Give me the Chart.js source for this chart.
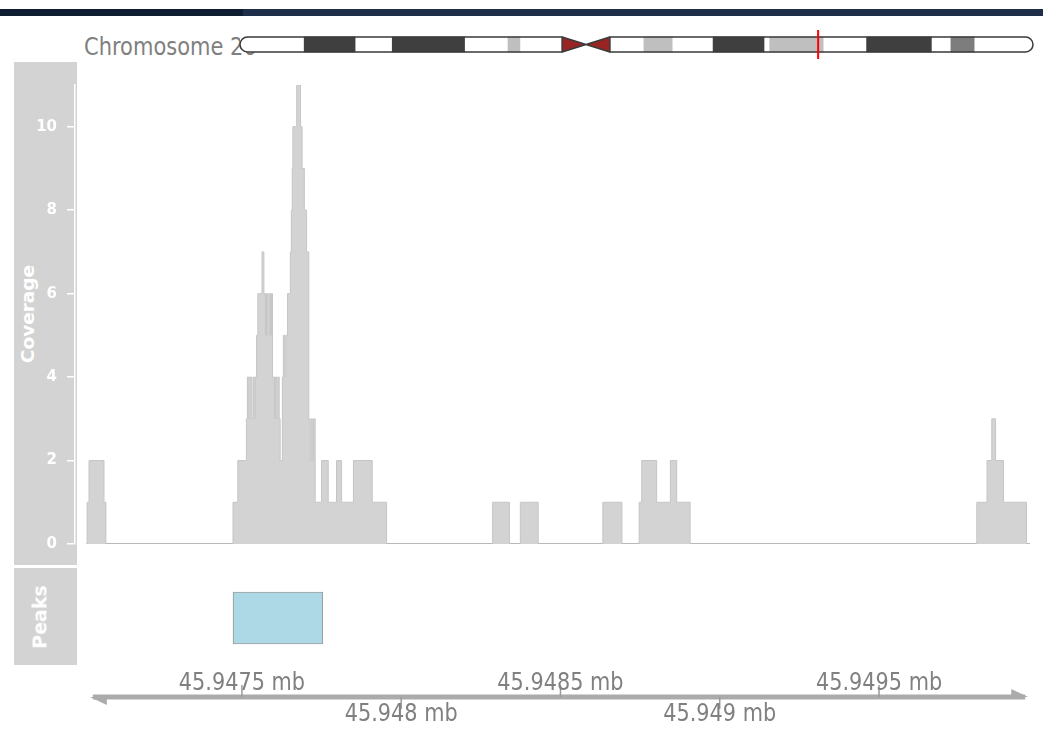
<!DOCTYPE html>
<html>
<head>
<meta charset="utf-8">
<script src="https://cdn.jsdelivr.net/npm/chart.js@4.4.0/dist/chart.umd.min.js"></script>
<style>
  html, body { margin: 0; padding: 0; background: #ffffff; }
  #wrap { position: relative; width: 1043px; height: 732px; overflow: hidden; background: #fff; font-family: "DejaVu Sans", sans-serif; }
  .abs { position: absolute; }
  canvas { position: absolute; left: 0; }
  .panel { position: absolute; left: 14px; width: 63px; background: #d3d3d3; }
  .vtitle { position: absolute; color: #ffffff; font-weight: bold; white-space: nowrap; transform: translate(-50%, -50%) rotate(-90deg); line-height: 1; }
</style>
</head>
<body>
<div id="wrap">
  <div class="abs" style="left:0;top:9px;width:1043px;height:7px;background:#1f2e48;"></div>
  <div class="abs" style="left:0;top:9px;width:243px;height:7px;background:#0f1d33;"></div>
  <div class="abs" id="chromTitle" style="left:84px;top:34px;font-size:24.7px;line-height:25px;color:#808080;white-space:nowrap;transform:scaleX(0.85);transform-origin:0 0;">Chromosome 20</div>
  <canvas id="ideo" width="1043" height="41" style="top:24px"></canvas>

  <div class="panel" style="top:62px;height:503px;"></div>
  <div class="panel" style="top:568px;height:97px;"></div>
  <div class="vtitle" style="left:28px;top:314px;font-size:18.5px;">Coverage</div>
  <div class="vtitle" style="left:40px;top:617px;font-size:19px;">Peaks</div>

  <canvas id="cov" width="1043" height="503" style="top:62px"></canvas>
  <canvas id="peak" width="1043" height="100" style="top:568px"></canvas>
  <canvas id="gaxis" width="1043" height="67" style="top:665px"></canvas>
</div>
<script>
// ---------------- data ----------------
// chromosome 20 cytobands (hg19)
const bandStarts = [0, 5100000, 9200000, 12100000, 17900000, 21300000, 22300000, 25600000, 27500000, 29400000, 32100000, 34400000, 37600000, 41700000, 42100000, 46400000, 49800000, 55000000, 56500000, 58400000];
const bandEnds   = [5100000, 9200000, 12100000, 17900000, 21300000, 22300000, 25600000, 27500000, 29400000, 32100000, 34400000, 37600000, 41700000, 42100000, 46400000, 49800000, 55000000, 56500000, 58400000, 63025520];
const bandStains = ['gneg','gpos75','gneg','gpos75','gneg','gpos25','gneg','acen','acen','gneg','gpos25','gneg','gpos75','gneg','gpos25','gneg','gpos75','gneg','gpos50','gneg'];

// plotted genomic window
const regionStart = 45946976;
const regionEnd   = 45949974;

// coverage histogram: step start positions and coverage value from each start
const covStart = [45947010, 45947014, 45947020, 45947067, 45947073,
  45947472, 45947487, 45947514, 45947517, 45947522, 45947525, 45947531, 45947535, 45947539, 45947542,
  45947546, 45947550, 45947563, 45947569, 45947574, 45947577, 45947582, 45947585, 45947590, 45947593,
  45947596, 45947602, 45947605, 45947610, 45947613, 45947617, 45947620, 45947627, 45947630, 45947635,
  45947638, 45947643, 45947652, 45947655, 45947658, 45947660, 45947672, 45947684, 45947689, 45947696,
  45947703, 45947710, 45947714, 45947717, 45947721, 45947725, 45947730, 45947750, 45947771, 45947797,
  45947813, 45947850, 45947909, 45947954,
  45948287, 45948340, 45948374, 45948430, 45948633, 45948693, 45948747, 45948755, 45948802, 45948845, 45948865, 45948907,
  45949807, 45949839, 45949854, 45949866, 45949891, 45949963, 45949974];
const covValue = [0, 1, 2, 1, 0,
  1, 2, 3, 4, 3, 4, 3, 4, 3, 4,
  5, 6, 7, 6, 5, 6, 5, 6, 5, 6,
  4, 3, 4, 3, 4, 3, 2, 4, 5, 4,
  5, 6, 7, 8, 9, 10, 11, 10, 9, 8,
  7, 3, 2, 3, 2, 3, 1, 2, 1, 2,
  1, 2, 1, 0,
  1, 0, 1, 0, 1, 0, 1, 2, 1, 2, 1, 0,
  1, 2, 3, 2, 1, 0, 0];
const baselineRange = [45947013, 45949974];
const yTicks = [0, 2, 4, 6, 8, 10];
const yMin = 0, yMax = 11;

// peaks track
const peakStarts = [45947472];
const peakEnds   = [45947754];

// genome axis
const axisRange  = [45947032, 45949959];
const axisTicks  = [45947500, 45948000, 45948500, 45949000, 45949500];
const axisLabels = ['45.9475 mb', '45.948 mb', '45.9485 mb', '45.949 mb', '45.9495 mb'];

// ---------------- styles ----------------
const stainColor = { gneg: '#ffffff', gpos25: '#bfbfbf', gpos50: '#7d7d7d', gpos75: '#3f3f3f', acen: 'rgba(0,0,0,0)' };
const common = { responsive: false, animation: false, events: [],
  plugins: { legend: { display: false }, tooltip: { enabled: false } } };

// ---------------- ideogram ----------------
const ideoPlugin = {
  id: 'ideoOutline',
  afterDatasetsDraw(chart) {
    const ctx = chart.ctx, xs = chart.scales.x;
    const bar = chart.getDatasetMeta(0).data[0];
    const top = bar.y - bar.height / 2, bot = bar.y + bar.height / 2, mid = bar.y;
    const acen = bandStains.map((s, i) => s === 'acen' ? i : -1).filter(i => i >= 0);
    const cS = xs.getPixelForValue(bandStarts[acen[0]]);
    const cM = xs.getPixelForValue(bandEnds[acen[0]]);
    const cE = xs.getPixelForValue(bandEnds[acen[acen.length - 1]]);
    const x0 = xs.getPixelForValue(bandStarts[0]);
    const x1 = xs.getPixelForValue(bandEnds[bandEnds.length - 1]);
    const r = (bot - top) / 2;
    ctx.save();
    ctx.fillStyle = '#992424';
    ctx.beginPath(); ctx.moveTo(cS, top); ctx.lineTo(cM, mid); ctx.lineTo(cS, bot); ctx.closePath(); ctx.fill();
    ctx.beginPath(); ctx.moveTo(cE, top); ctx.lineTo(cM, mid); ctx.lineTo(cE, bot); ctx.closePath(); ctx.fill();
    ctx.strokeStyle = '#3a3a3a'; ctx.lineWidth = 1.5;
    ctx.beginPath(); ctx.roundRect(x0, top, cS - x0, bot - top, [r, 0, 0, r]); ctx.stroke();
    ctx.beginPath(); ctx.roundRect(cE, top, x1 - cE, bot - top, [0, r, r, 0]); ctx.stroke();
    ctx.beginPath(); ctx.moveTo(cS, top); ctx.lineTo(cE, bot); ctx.moveTo(cS, bot); ctx.lineTo(cE, top); ctx.stroke();
    // current region marker
    const rx = xs.getPixelForValue((regionStart + regionEnd) / 2);
    const rw = Math.max(2, xs.getPixelForValue(regionEnd) - xs.getPixelForValue(regionStart));
    ctx.fillStyle = '#ff0000';
    ctx.fillRect(rx - rw / 2, top - 7, rw, bot - top + 14);
    ctx.restore();
  }
};
new Chart(document.getElementById('ideo'), {
  type: 'bar',
  data: {
    labels: ['chr20'],
    datasets: [{
      data: bandStarts.map((s, i) => ({ x: [s, bandEnds[i]], y: 'chr20' })),
      backgroundColor: bandStains.map(s => stainColor[s]),
      borderWidth: 0,
      barThickness: 15
    }]
  },
  options: Object.assign({}, common, {
    indexAxis: 'y',
    layout: { padding: { left: 240, right: 10, top: 0, bottom: 0 } },
    scales: {
      x: { type: 'linear', display: false, min: bandStarts[0], max: bandEnds[bandEnds.length - 1] },
      y: { type: 'category', display: false }
    }
  }),
  plugins: [ideoPlugin]
});

// ---------------- coverage ----------------
new Chart(document.getElementById('cov'), {
  type: 'line',
  data: {
    datasets: [{
      data: covStart.map((x, i) => ({ x: x, y: covValue[i] })),
      stepped: true,
      fill: 'origin',
      backgroundColor: '#d3d3d3',
      borderColor: '#c6c6c6',
      borderWidth: 1,
      pointRadius: 0
    }, {
      data: baselineRange.map(x => ({ x: x, y: 0 })),
      borderColor: '#a9a9a9',
      borderWidth: 2,
      pointRadius: 0,
      fill: false
    }]
  },
  options: Object.assign({}, common, {
    layout: { padding: { left: 0, right: 13, top: 23, bottom: 21 } },
    scales: {
      x: { type: 'linear', display: false, min: regionStart, max: regionEnd },
      y: {
        type: 'linear', position: 'left', min: yMin, max: yMax,
        afterFit(scale) { scale.width = 75; },
        afterBuildTicks(scale) { scale.ticks = yTicks.map(v => ({ value: v })); },
        ticks: { color: '#ffffff', font: { family: 'DejaVu Sans', size: 15, weight: 'bold' }, padding: 10 },
        grid: { drawOnChartArea: false, drawTicks: true, tickLength: 8, color: '#ffffff', lineWidth: 1.5 },
        border: { display: true, color: '#ffffff', width: 1.5 }
      }
    }
  })
});

// ---------------- peaks ----------------
new Chart(document.getElementById('peak'), {
  type: 'bar',
  data: {
    labels: ['Peaks'],
    datasets: [{
      data: peakStarts.map((s, i) => ({ x: [s, peakEnds[i]], y: 'Peaks' })),
      backgroundColor: '#add8e6',
      borderColor: '#a0a0a0',
      borderWidth: 1.2,
      borderSkipped: false,
      barThickness: 52
    }]
  },
  options: Object.assign({}, common, {
    indexAxis: 'y',
    layout: { padding: { left: 75, right: 13, top: 0, bottom: 0 } },
    scales: {
      x: { type: 'linear', display: false, min: regionStart, max: regionEnd },
      y: { type: 'category', display: false }
    }
  })
});

// ---------------- genome axis ----------------
const axisPlugin = {
  id: 'genomeAxis',
  afterDraw(chart) {
    const ctx = chart.ctx, xs = chart.scales.x;
    const y = 32;
    const x0 = xs.getPixelForValue(axisRange[0]);
    const x1 = xs.getPixelForValue(axisRange[1]);
    ctx.save();
    ctx.strokeStyle = '#ababab'; ctx.lineWidth = 5;
    ctx.beginPath(); ctx.moveTo(x0, y); ctx.lineTo(x1, y); ctx.stroke();
    ctx.fillStyle = '#ababab';
    ctx.beginPath(); ctx.moveTo(x0 - 3, y); ctx.lineTo(x0 + 14, y); ctx.lineTo(x0 + 14, y + 8); ctx.closePath(); ctx.fill();
    ctx.beginPath(); ctx.moveTo(x1 + 3, y); ctx.lineTo(x1 - 14, y); ctx.lineTo(x1 - 14, y - 8); ctx.closePath(); ctx.fill();
    ctx.strokeStyle = '#9a9a9a'; ctx.lineWidth = 1.5;
    ctx.fillStyle = '#808080';
    ctx.font = '24.5px "DejaVu Sans"';
    ctx.textAlign = 'center';
    ctx.textBaseline = 'alphabetic';
    axisTicks.forEach((t, i) => {
      const x = xs.getPixelForValue(t);
      const up = i % 2 === 0;
      ctx.beginPath(); ctx.moveTo(x, y); ctx.lineTo(x, up ? y - 12 : y + 12); ctx.stroke();
      ctx.save();
      ctx.translate(x, up ? 25 : 56);
      ctx.scale(0.85, 1);
      ctx.fillText(axisLabels[i], 0, 0);
      ctx.restore();
    });
    ctx.restore();
  }
};
new Chart(document.getElementById('gaxis'), {
  type: 'scatter',
  data: { datasets: [{ data: [], pointRadius: 0 }] },
  options: Object.assign({}, common, {
    layout: { padding: { left: 75, right: 13, top: 0, bottom: 0 } },
    scales: {
      x: { type: 'linear', display: false, min: regionStart, max: regionEnd },
      y: { type: 'linear', display: false, min: 0, max: 1 }
    }
  }),
  plugins: [axisPlugin]
});
</script>
</body>
</html>
